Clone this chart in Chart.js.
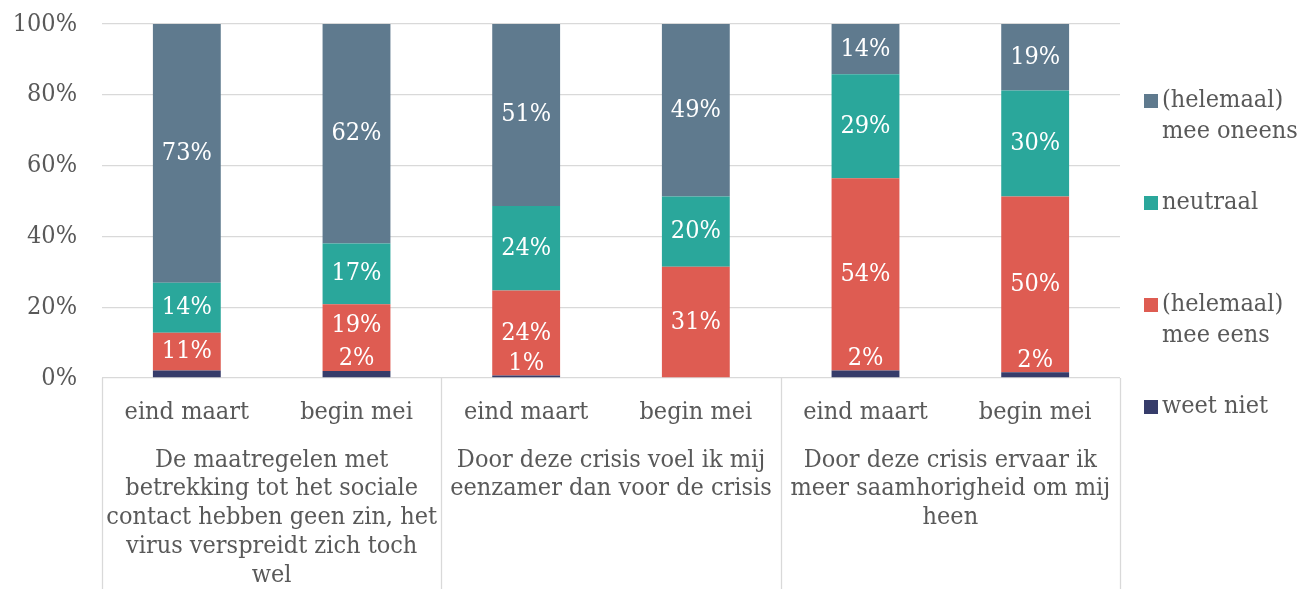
<!DOCTYPE html>
<html>
<head>
<meta charset="utf-8">
<script src="https://cdn.jsdelivr.net/npm/chart.js@4/dist/chart.umd.min.js"></script>
<style>
  html, body { margin: 0; padding: 0; background: #fff; }
  #wrap { width: 1305px; height: 589px; position: relative; }
</style>
</head>
<body>
<div id="wrap"><canvas id="chart"></canvas></div>
<script>
const FONT = "'DejaVu Serif Condensed', 'Liberation Serif', serif";
const FSIZE = 25;
const TEXT = '#595959';
const GRID = '#d9d9d9';

// categories
const periods = ['eind maart', 'begin mei', 'eind maart', 'begin mei', 'eind maart', 'begin mei'];
const statements = [
  ['De maatregelen met', 'betrekking tot het sociale', 'contact hebben geen zin, het', 'virus verspreidt zich toch', 'wel'],
  ['Door deze crisis voel ik mij', 'eenzamer dan voor de crisis'],
  ['Door deze crisis ervaar ik', 'meer saamhorigheid om mij', 'heen']
];

// series (percent of respondents)
const weetNiet  = [2.1, 2.0, 0.7, 0, 2.1, 1.6];
const meeEens   = [10.7, 18.8, 24.0, 31.4, 54.3, 49.7];
const neutraal  = [14.1, 17.2, 23.9, 19.9, 29.4, 29.9];
const meeOneens = [73.1, 62.0, 51.4, 48.7, 14.2, 18.8];
const showWeetNietLabel = [false, true, true, false, true, true];

const seriesNames = [['weet niet'], ['(helemaal)', 'mee eens'], ['neutraal'], ['(helemaal)', 'mee oneens']];
const seriesColors = ['#363c6a', '#de5c52', '#2aa79b', '#5f7a8e'];

// y axis
const yMax = 100;
const yStep = 20;

// value labels inside the segments
const valueLabels = {
  id: 'valueLabels',
  afterDatasetsDraw(chart) {
    const ctx = chart.ctx;
    ctx.save();
    ctx.font = FSIZE + 'px ' + FONT;
    ctx.fillStyle = '#ffffff';
    ctx.textAlign = 'center';
    ctx.textBaseline = 'middle';
    const wnMeta = chart.getDatasetMeta(0);
    chart.data.datasets.forEach((ds, i) => {
      const meta = chart.getDatasetMeta(i);
      meta.data.forEach((el, j) => {
        const v = ds.data[j];
        if (!v) return;
        if (i === 0 && !showWeetNietLabel[j]) return;
        let y = (el.y + el.base) / 2;
        if (i === 0) {
          y = el.y - 12;
        } else if (i === 1 && showWeetNietLabel[j] && weetNiet[j]) {
          const wnTop = wnMeta.data[j].y - 25;
          if (y + 13 > wnTop) y = (el.y + wnTop) / 2;
        }
        ctx.fillText(Math.round(v) + '%', el.x, y);
      });
    });
    ctx.restore();
  }
};

// group labels under the period labels + separators
const groupAxis = {
  id: 'groupAxis',
  afterDraw(chart) {
    const ctx = chart.ctx;
    const x = chart.scales.x;
    const top = chart.chartArea.bottom;
    const bottom = chart.height;
    ctx.save();
    ctx.strokeStyle = GRID;
    ctx.lineWidth = 1.3;
    const edges = [x.left];
    for (let g = 0; g < statements.length; g++) {
      const b = x.getPixelForValue(g * 2 + 1);
      edges.push(g < statements.length - 1 ? (b + x.getPixelForValue(g * 2 + 2)) / 2 : x.right);
    }
    edges.forEach(px => {
      ctx.beginPath();
      ctx.moveTo(Math.round(px) + 0.5, top);
      ctx.lineTo(Math.round(px) + 0.5, bottom);
      ctx.stroke();
    });
    ctx.font = FSIZE + 'px ' + FONT;
    ctx.fillStyle = TEXT;
    ctx.textAlign = 'center';
    ctx.textBaseline = 'middle';
    statements.forEach((lines, g) => {
      const cx = (edges[g] + edges[g + 1]) / 2;
      lines.forEach((line, k) => ctx.fillText(line, cx, top + 82 + k * 28.8));
    });
    ctx.restore();
  }
};

// legend on the right, top series first
const sideLegend = {
  id: 'sideLegend',
  afterDraw(chart) {
    const ctx = chart.ctx;
    ctx.save();
    ctx.font = FSIZE + 'px ' + FONT;
    ctx.textBaseline = 'middle';
    ctx.textAlign = 'left';
    const order = [3, 2, 1, 0];
    const y0 = 100, y1 = 406;
    const step = (y1 - y0) / (order.length - 1);
    order.forEach((s, k) => {
      const cy = y0 + k * step;
      ctx.fillStyle = seriesColors[s];
      ctx.fillRect(1144, cy - 6, 14, 14);
      ctx.fillStyle = TEXT;
      seriesNames[s].forEach((line, n) => ctx.fillText(line, 1162, cy + n * 31));
    });
    ctx.restore();
  }
};

const seriesData = [weetNiet, meeEens, neutraal, meeOneens];

new Chart(document.getElementById('chart'), {
  type: 'bar',
  data: {
    labels: periods,
    datasets: seriesData.map((d, i) => ({
      label: seriesNames[i].join(' '),
      data: d,
      backgroundColor: seriesColors[i],
      borderWidth: 0,
      categoryPercentage: 1,
      barPercentage: 0.4
    }))
  },
  options: {
    responsive: true,
    maintainAspectRatio: false,
    animation: false,
    layout: { padding: { top: 24, right: 185, left: 0, bottom: 0 } },
    plugins: {
      legend: { display: false },
      tooltip: { enabled: false }
    },
    scales: {
      x: {
        stacked: true,
        grid: { display: false },
        border: { display: false },
        ticks: { color: TEXT, font: { family: FONT, size: FSIZE }, padding: 11, autoSkip: false, maxRotation: 0 },
        afterFit: s => { s.height = 211; }
      },
      y: {
        stacked: true,
        min: 0,
        max: yMax,
        grid: { color: GRID, lineWidth: 1.3, drawTicks: false },
        border: { display: false },
        ticks: { stepSize: yStep, color: TEXT, font: { family: FONT, size: FSIZE }, padding: 25, callback: v => v + '%' },
        afterFit: s => { s.width = 102; s.paddingTop = 0; s.paddingBottom = 0; }
      }
    }
  },
  plugins: [valueLabels, groupAxis, sideLegend]
});
</script>
</body>
</html>
